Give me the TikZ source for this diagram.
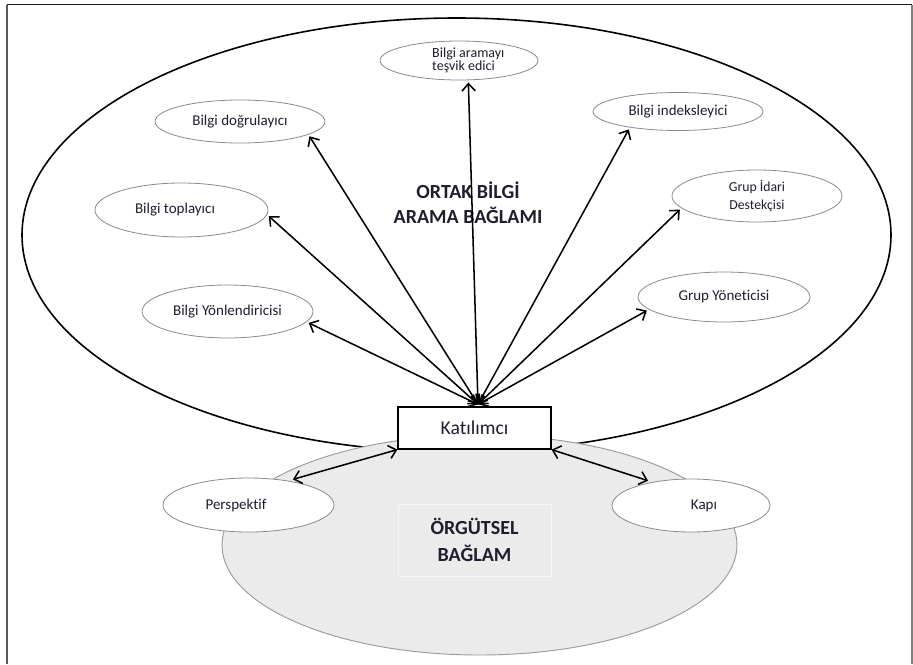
\documentclass[tikz,border=0pt]{standalone}
\usepackage{fontspec}
\setmainfont{Carlito}[Ligatures=CommonOff]
\usetikzlibrary{arrows.meta,shapes.geometric,calc}
\definecolor{ellgray}{HTML}{8A8A8A}
\definecolor{fillgray}{HTML}{EBEBEB}
\definecolor{greyline}{HTML}{9A9A9A}
\definecolor{txt}{HTML}{1E1E2E}
\definecolor{faint}{HTML}{F6F6F6}
\begin{document}
\begin{tikzpicture}[x=0.75pt,y=-0.75pt,
  ell/.style={draw=ellgray, line width=0.6pt, fill=white, ellipse, inner sep=0pt, outer sep=2pt,
    text=txt, font=\fontsize{11.25pt}{13pt}\selectfont},
  conn/.style={draw=black, line width=1.15pt, line cap=round,
    {Straight Barb[length=5.5pt,width=10pt]}-{Straight Barb[length=5.5pt,width=10pt]}},
  boldtxt/.style={text=txt, align=center, font=\bfseries\fontsize{15pt}{18.75pt}\selectfont}]
\useasboundingbox (0,0) rectangle (913,664);
% frame
\draw[line width=1.5pt, draw=black!65] (6.5,664) -- (6.5,4.5);
\draw[line width=1.2pt, draw=black!90] (6.5,4.5) -- (912,4.5);
\draw[line width=1.2pt, draw=black!50] (912,4.5) -- (912,664);
% contexts
\node[draw=black, line width=1.2pt, ellipse, inner sep=0pt, minimum width=651.75pt, minimum height=325.5pt] (ortak) at (456.5,235) {};
\node[draw=greyline, line width=0.7pt, fill=fillgray, ellipse, inner sep=0pt, minimum width=386.25pt, minimum height=165pt] (orgctx) at (479.5,545) {};
\node[boldtxt] (ortaktxt) at (468,203) {ORTAK BİLGİ\\ARAMA BAĞLAMI};
\node[boldtxt, draw=faint, line width=0.6pt, fill=fillgray, minimum width=114.75pt, minimum height=54pt,
  inner sep=0pt, font=\bfseries\fontsize{15pt}{20.25pt}\selectfont] (org) at (474.5,540) {ÖRGÜTSEL\\BAĞLAM};
% participant
\node[draw=black, line width=0.9pt, fill=white, minimum width=114.75pt, minimum height=31.5pt, inner sep=0pt,
  text=txt, font=\fontsize{14.7pt}{17pt}\selectfont] (kat) at (474.5,428) {Katılımcı};
% roles
\node[ell, minimum width=118.5pt, minimum height=29.25pt, align=left, font=\fontsize{10.5pt}{10pt}\selectfont] (ara) at (459,60.5)
  {\hspace*{14pt}Bilgi aramayı\\\hspace*{14pt}teşvik edici};
\node[ell, minimum width=127.5pt, minimum height=32.25pt] (dog) at (240,121.5) {Bilgi doğrulayıcı};
\node[ell, minimum width=129.75pt, minimum height=40.5pt] (top) at (181.5,210) {Bilgi toplayıcı\hspace*{9.75pt}};
\node[ell, minimum width=128.25pt, minimum height=39.75pt] (yon) at (227.5,311.5) {Bilgi Yönlendiricisi};
\node[ell, minimum width=127.5pt, minimum height=28.5pt] (idx) at (678,111.5) {Bilgi indeksleyici};
\node[ell, minimum width=127.5pt, minimum height=39pt, align=center, font=\fontsize{10.3pt}{13.5pt}\selectfont] (ida) at (757,196) {Grup İdari\\Destekçisi};
\node[ell, minimum width=129pt, minimum height=37.5pt] (gyo) at (724,297) {Grup Yöneticisi};
\node[ell, minimum width=128.25pt, minimum height=40.5pt] (per) at (248.5,505) {Perspektif\hspace*{18.75pt}};
\node[ell, minimum width=118.5pt, minimum height=39.75pt] (kap) at (691,505.5) {\hspace*{19.5pt}Kapı};
% connectors
\coordinate (hub) at ($(kat.north)+(3.5,-2)$);
\draw[conn] (hub) -- (ara.293);
\draw[conn] (hub) -- (dog.-12);
\draw[conn] (hub) -- (top.-4);
\draw[conn] (hub) -- (yon.-8);
\draw[conn] (hub) -- (idx.200);
\draw[conn] (hub) -- (ida.190);
\draw[conn] (hub) -- (gyo.190);
\draw[conn] (kat.south west) -- (per.30);
\draw[conn] (kat.south east) -- (kap.150);
\end{tikzpicture}
\end{document}
